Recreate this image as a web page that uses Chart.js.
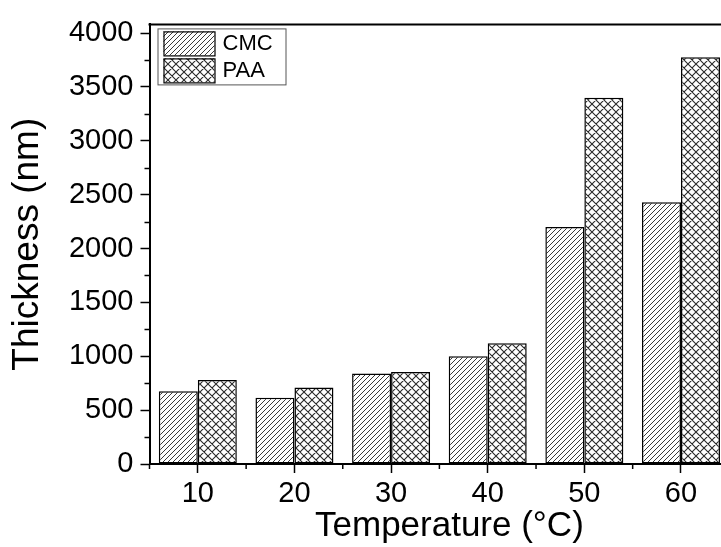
<!DOCTYPE html>
<html><head><meta charset="utf-8">
<script src="https://cdn.jsdelivr.net/npm/chart.js@4/dist/chart.umd.min.js"></script>
<style>
html,body{margin:0;padding:0;background:#fff;overflow:hidden;width:721px;height:547px}
#wrap{width:721px;height:547px;overflow:hidden;position:relative}
canvas{display:block}
</style></head>
<body><div id="wrap"><canvas id="c" width="740" height="547"></canvas></div>
<script>
const categories = ['10', '20', '30', '40', '50', '60'];
const cmcThickness = [675, 615, 840, 1000, 2200, 2430];
const paaThickness = [780, 710, 855, 1120, 3400, 3775];
const seriesNames = ['CMC', 'PAA'];
const yTickValues = [0, 500, 1000, 1500, 2000, 2500, 3000, 3500, 4000];
const yMinorTickValues = [250, 750, 1250, 1750, 2250, 2750, 3250, 3750];
const yMin = 0, yMax = 4080;
const xTitle = 'Temperature (°C)';
const yTitle = 'Thickness (nm)';

const FONT = "'Liberation Sans', Arial, sans-serif";

function makePattern(size, both, color, lw) {
  const c = document.createElement('canvas');
  c.width = size; c.height = size;
  const g = c.getContext('2d');
  g.fillStyle = '#fff'; g.fillRect(0, 0, size, size);
  g.strokeStyle = color; g.lineWidth = lw;
  g.beginPath();
  g.moveTo(0, size); g.lineTo(size, 0);
  g.moveTo(-1, 1); g.lineTo(1, -1);
  g.moveTo(size - 1, size + 1); g.lineTo(size + 1, size - 1);
  if (both) {
    g.moveTo(0, 0); g.lineTo(size, size);
    g.moveTo(-1, size - 1); g.lineTo(1, size + 1);
    g.moveTo(size - 1, -1); g.lineTo(size + 1, 1);
  }
  g.stroke();
  return g.createPattern(c, 'repeat');
}
const cmcFill = makePattern(5, false, '#3a3a3a', 1);
const paaFill = makePattern(8, true, '#2a2a2a', 1.1);

const framePlugin = {
  id: 'frame',
  afterDraw(chart) {
    const { ctx, chartArea, scales } = chart;
    const { left, right, top, bottom } = chartArea;
    const x = scales.x, y = scales.y;
    ctx.save();
    ctx.strokeStyle = '#000';
    ctx.lineWidth = 2;
    ctx.beginPath();
    ctx.moveTo(left - 1, top); ctx.lineTo(right + 1, top);
    ctx.moveTo(right, top); ctx.lineTo(right, bottom);
    ctx.stroke();
    // minor ticks
    ctx.lineWidth = 1.5;
    ctx.beginPath();
    yMinorTickValues.forEach(v => {
      const py = Math.round(y.getPixelForValue(v)) + 0.5;
      ctx.moveTo(left - 5, py); ctx.lineTo(left, py);
    });
    const n = categories.length;
    const w = x.getPixelForValue(1) - x.getPixelForValue(0);
    for (let i = 0; i <= n; i++) {
      const px = x.getPixelForValue(0) - w / 2 + i * w;
      ctx.moveTo(px, bottom); ctx.lineTo(px, bottom + 5);
    }
    ctx.stroke();
    // x axis title
    ctx.fillStyle = '#000';
    ctx.font = "35px " + FONT;
    ctx.textAlign = 'center';
    ctx.textBaseline = 'alphabetic';
    ctx.fillText(xTitle, (left + right) / 2 + 10, 536);
    // legend
    const lx = left + 8, ly = top + 4;
    const bw = 128, bh = 56;
    ctx.fillStyle = '#fff';
    ctx.fillRect(lx, ly, bw, bh);
    ctx.strokeStyle = '#555';
    ctx.lineWidth = 1;
    ctx.strokeRect(lx + 0.5, ly + 0.5, bw, bh);
    chart.data.datasets.forEach((ds, i) => {
      const sx = lx + 6, sy = ly + 3 + i * 27, sw = 51, sh = 24;
      ctx.fillStyle = ds.backgroundColor;
      ctx.fillRect(sx, sy, sw, sh);
      ctx.strokeStyle = '#000';
      ctx.lineWidth = 1.2;
      ctx.strokeRect(sx + 0.5, sy + 0.5, sw, sh);
      ctx.fillStyle = '#000';
      ctx.font = "22px " + FONT;
      ctx.textBaseline = 'middle';
      ctx.textAlign = 'left';
      ctx.fillText(ds.label, sx + sw + 8, sy + sh / 2 + 1);
    });
    ctx.restore();
  }
};

new Chart(document.getElementById('c'), {
  type: 'bar',
  data: {
    labels: categories,
    datasets: [
      { label: seriesNames[0], data: cmcThickness, backgroundColor: cmcFill, borderColor: '#000', borderWidth: 1.5, borderSkipped: false },
      { label: seriesNames[1], data: paaThickness, backgroundColor: paaFill, borderColor: '#000', borderWidth: 1.5, borderSkipped: false }
    ]
  },
  options: {
    responsive: false,
    animation: false,
    events: [],
    layout: { padding: { left: 0, right: 10.7, top: 18, bottom: 0 } },
    datasets: { bar: { categoryPercentage: 0.807, barPercentage: 1.0 } },
    plugins: { legend: { display: false }, tooltip: { enabled: false } },
    scales: {
      x: {
        type: 'category',
        offset: true,
        grid: { offset: false, drawOnChartArea: false, drawTicks: true, tickLength: 9, tickColor: '#000', tickWidth: 1.5 },
        border: { display: true, color: '#000', width: 2 },
        ticks: { color: '#000', font: { family: FONT, size: 29 }, padding: 4, maxRotation: 0 },
        title: { display: false },
        afterFit(scale) { scale.height = 83; }
      },
      y: {
        min: yMin, max: yMax,
        grid: { drawOnChartArea: false, drawTicks: true, tickLength: 9, tickColor: '#000', tickWidth: 1.5 },
        border: { display: true, color: '#000', width: 2 },
        afterBuildTicks(scale) { scale.ticks = yTickValues.map(v => ({ value: v })); },
        ticks: { color: '#000', font: { family: FONT, size: 29 }, padding: 7, callback: (v) => String(v) },
        title: { display: true, text: yTitle, color: '#000', font: { family: FONT, size: 37, lineHeight: 1.2 }, padding: { top: 6, bottom: 0 } },
        afterFit(scale) { scale.width = 149.5; }
      }
    }
  },
  plugins: [framePlugin]
});
</script>
</body></html>
